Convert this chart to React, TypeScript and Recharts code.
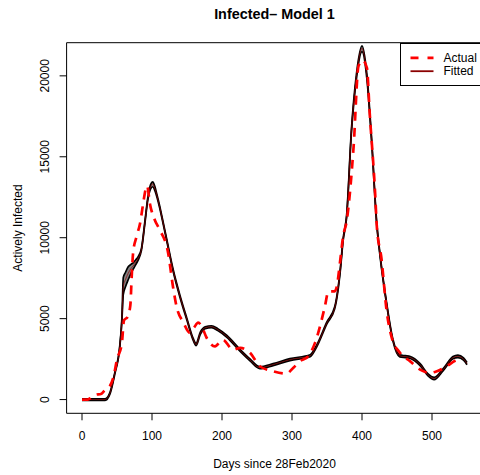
import { ComposedChart, Line, Area, XAxis, YAxis, ReferenceArea } from "recharts";

// observed active cases (red dashed)
const actualDays = [0, 8, 14, 20, 27, 33, 40, 45, 50, 57, 60, 65, 69, 71, 73, 78, 83, 87, 91, 93, 97, 104, 111, 123, 130, 135, 145, 154, 160, 166, 171, 178, 190, 201, 216, 226, 240, 254, 273, 292, 302, 311, 323, 333, 340, 347, 352, 361, 364, 369, 373, 378, 388, 395, 401, 407, 411, 419, 421, 428, 435, 442, 454, 469, 483, 497, 507, 521, 533, 543];
const actualCases = [0, 0, 150, 300, 350, 600, 850, 1400, 2470, 3500, 4900, 5100, 5800, 7600, 9070, 10080, 10900, 12000, 13000, 13200, 12100, 11100, 10490, 9070, 6970, 5760, 4750, 4130, 4450, 4750, 4520, 3820, 3290, 3700, 3080, 3200, 2900, 2060, 1750, 1600, 1970, 2360, 2670, 3520, 4520, 5760, 6680, 6680, 6990, 8640, 10080, 11000, 15630, 20600, 20950, 20500, 17700, 12540, 10800, 8640, 5550, 3900, 2900, 2360, 1850, 1650, 1750, 2060, 2400, 2550];

// model fit with its band
const fittedDays = [0, 20, 33, 40, 47, 54, 57, 59, 62, 66, 70, 73, 77, 80, 85, 90, 94, 98, 101, 104, 107, 111, 114, 121, 130, 140, 150, 159, 163, 169, 176, 185, 194, 207, 226, 240, 254, 273, 297, 326, 335, 350, 361, 366, 369, 373, 378, 385, 392, 400, 407, 414, 421, 426, 435, 444, 454, 462, 469, 483, 494, 503, 516, 530, 537, 545, 550];
const fittedCases = [0, 0, 0, 400, 1650, 3290, 4940, 7000, 7400, 7800, 8100, 8250, 8500, 8700, 9300, 11000, 12400, 13150, 13330, 13050, 12600, 11900, 11300, 9870, 8020, 6370, 4940, 3700, 3400, 4100, 4440, 4500, 4320, 3900, 3030, 2450, 1970, 2160, 2470, 2710, 3290, 4750, 5670, 6900, 8020, 9870, 11300, 16660, 19950, 21700, 19950, 15850, 10900, 8840, 5980, 3700, 2700, 2650, 2600, 2160, 1540, 1300, 1850, 2590, 2670, 2500, 2220];
const fittedLow = [-50, -50, -50, 350, 1600, 3230, 4850, 6500, 6950, 7400, 7800, 8050, 8350, 8600, 9240, 10930, 12320, 13020, 13150, 12920, 12520, 11830, 11240, 9810, 7960, 6310, 4880, 3640, 3330, 4030, 4380, 4440, 4260, 3840, 2970, 2390, 1910, 2100, 2410, 2650, 3230, 4690, 5610, 6830, 7950, 9800, 11220, 16560, 19800, 21500, 19800, 15750, 10820, 8770, 5920, 3640, 2640, 2590, 2540, 2100, 1480, 1230, 1790, 2520, 2590, 2430, 2150];
const fittedHigh = [50, 50, 50, 450, 1700, 3350, 5050, 7550, 7850, 8200, 8350, 8450, 8650, 8820, 9360, 11070, 12480, 13280, 13450, 13180, 12680, 11970, 11360, 9930, 8080, 6430, 5000, 3760, 3470, 4170, 4500, 4560, 4380, 3960, 3090, 2510, 2030, 2220, 2530, 2770, 3350, 4810, 5730, 6970, 8090, 9940, 11380, 16760, 20100, 21850, 20100, 15950, 10980, 8910, 6040, 3760, 2760, 2710, 2660, 2220, 1600, 1370, 1910, 2660, 2750, 2570, 2290];

const xTicks = [0, 100, 200, 300, 400, 500];
const yTicks = [0, 5000, 10000, 15000, 20000];

const actualData = actualDays.map((d, i) => ({ day: d, actual: actualCases[i] }));
const fittedData = fittedDays.map((d, i) => ({
  day: d,
  fitted: fittedCases[i],
  low: fittedLow[i],
  high: fittedHigh[i],
  band: [fittedLow[i], fittedHigh[i]],
}));

const X_MIN = -22;
const X_MAX = 572;
const Y_MIN = -848;
const Y_MAX = 22048;

const font = '"Liberation Sans", Arial, sans-serif';

const YTick = ({ y, payload }: any) => (
  <text x={45} y={y} dy="0.355em" transform={`rotate(-90, 45, ${y})`} textAnchor="middle" fontSize={12} fill="#000">
    {payload.value}
  </text>
);

const LegendBox = () => (
  <div
    style={{
      position: "absolute",
      left: 399.5,
      top: 42.5,
      width: 90,
      height: 43.5,
      border: "1px solid #000",
      boxSizing: "border-box",
      background: "#fff",
    }}
  >
    <svg width={90} height={42} style={{ position: "absolute", left: -1, top: -1 }}>
      <line x1={10.5} x2={33.5} y1={14.8} y2={14.8} stroke="#FF0000" strokeWidth={2.7} strokeDasharray="8 9" />
      <line x1={10.5} x2={33.5} y1={28.2} y2={28.2} stroke="#8B0000" strokeWidth={1.8} />
      <text x={43.5} y={14.8} dy="0.355em" fontSize={12} fill="#000">Actual</text>
      <text x={43.5} y={28.2} dy="0.355em" fontSize={12} fill="#000">Fitted</text>
    </svg>
  </div>
);

export default function App() {
  return (
    <div
      style={{
        position: "absolute",
        left: 0,
        top: 0,
        width: 480,
        height: 475,
        overflow: "hidden",
        background: "#fff",
        fontFamily: font,
      }}
    >
      <div
        style={{
          position: "absolute",
          left: 0,
          top: 6.8,
          width: 549,
          textAlign: "center",
          fontSize: 14.4,
          lineHeight: "14.4px",
          fontWeight: "bold",
          color: "#000",
        }}
      >
        Infected– Model 1
      </div>
      <ComposedChart width={490} height={475} margin={{ top: 42.7, right: 7.6, bottom: 3.7, left: 0 }}>
        <XAxis
          type="number"
          dataKey="day"
          domain={[X_MIN, X_MAX]}
          allowDataOverflow
          ticks={xTicks}
          interval={0}
          height={58}
          axisLine={false}
          tickSize={7}
          tickMargin={11}
          tickLine={{ stroke: "#000" }}
          tick={{ fontSize: 12, fill: "#000" }}
          label={{ value: "Days since 28Feb2020", position: "insideBottom", offset: 3, fontSize: 12, fill: "#000" }}
        />
        <YAxis
          type="number"
          domain={[Y_MIN, Y_MAX]}
          allowDataOverflow
          ticks={yTicks}
          interval={0}
          width={66.6}
          axisLine={false}
          tickSize={7}
          tickLine={{ stroke: "#000" }}
          tick={<YTick />}
          label={{
            value: "Actively Infected",
            angle: -90,
            position: "insideLeft",
            offset: 18,
            fontSize: 12,
            fill: "#000",
            style: { textAnchor: "middle" },
          }}
        />
        <ReferenceArea x1={X_MIN} x2={X_MAX} y1={Y_MIN} y2={Y_MAX} fill="none" stroke="#000" strokeWidth={1} fillOpacity={0} />
        <Area data={fittedData} type="monotone" dataKey="band" fill="#808080" fillOpacity={1} stroke="none" isAnimationActive={false} />
        <Line data={fittedData} type="monotone" dataKey="low" stroke="#000" strokeWidth={1.7} dot={false} isAnimationActive={false} />
        <Line data={fittedData} type="monotone" dataKey="high" stroke="#000" strokeWidth={1.7} dot={false} isAnimationActive={false} />
        <Line data={fittedData} type="monotone" dataKey="fitted" stroke="#8B0000" strokeWidth={0.7} dot={false} isAnimationActive={false} />
        <Line data={actualData} type="monotone" dataKey="actual" stroke="#FF0000" strokeWidth={2.7} strokeDasharray="9 7" dot={false} isAnimationActive={false} />
      </ComposedChart>
      <LegendBox />
    </div>
  );
}
